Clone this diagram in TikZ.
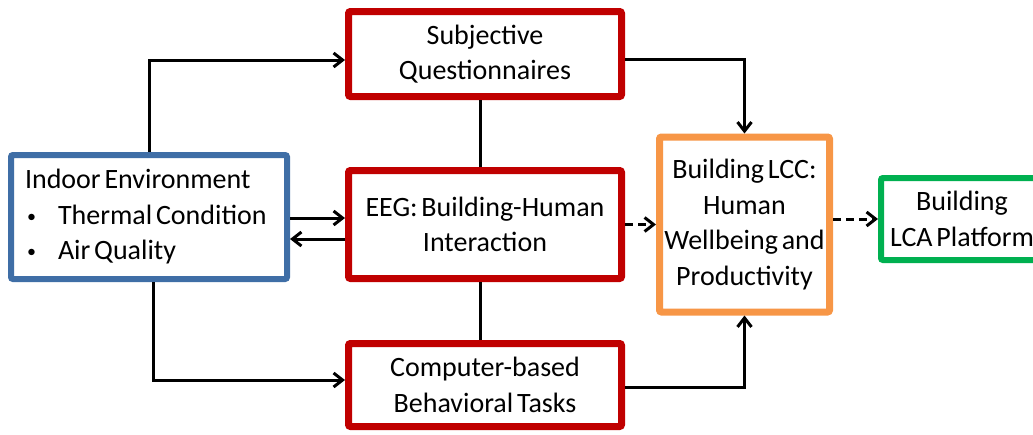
\documentclass[tikz,border=0pt]{standalone}
\usepackage{fontspec}
\setmainfont{Carlito}[WordSpace=0.6]
\usetikzlibrary{positioning,arrows.meta,shadows}

\definecolor{envblue}{HTML}{3F6EA6}
\definecolor{eegred}{HTML}{C00000}
\definecolor{lccorange}{HTML}{F79646}
\definecolor{lcagreen}{HTML}{00B050}

\newcommand{\envitem}{\hspace{2pt}\makebox[31pt][l]{\fontsize{18}{18}\selectfont\raisebox{2pt}{\textbullet}}}

\begin{document}
\begin{tikzpicture}[x=1pt,y=-1pt,
  box/.style={draw, line width=7pt, rounded corners=2pt, fill=white, align=center,
    font=\fontsize{28}{35.5}\selectfont,
    drop shadow={shadow xshift=2pt, shadow yshift=-2pt, opacity=0.25}},
  redbox/.style={box, draw=eegred, minimum width=273pt},
  arr/.style={line width=3pt, -{Straight Barb[length=9pt,width=14pt]}},
  dasharr/.style={arr, dash pattern=on 8pt off 5pt}]
  \useasboundingbox (0,0) rectangle (1033,434);

  \node (eeg) [redbox, minimum height=108pt] at (485,224.5) {EEG: Building-Human\\Interaction};
  \node (subj) [redbox, minimum height=85pt, node distance=170.5pt, above of=eeg] {Subjective\\Questionnaires};
  \node (comp) [redbox, minimum height=83pt, node distance=160.5pt, below of=eeg] {Computer-based\\Behavioral Tasks};
  \node (env) [box, draw=envblue, line width=6pt, minimum width=276pt, minimum height=124pt,
    text width=248pt, inner xsep=14pt, align=flush left] at (149,217)
    {Indoor Environment\\
     \envitem Thermal Condition\\
     \envitem Air Quality};
  \node (lcc) [box, draw=lccorange, minimum width=170pt, minimum height=175pt,
    node distance=259.5pt, right of=eeg] {Building LCC:\\Human\\Wellbeing and\\Productivity};
  \node (lca) [box, draw=lcagreen, line width=6pt, minimum width=162pt, minimum height=82pt]
    at (962,219) {Building\\LCA Platform};

  % inputs from the indoor environment
  \draw[arr] (env.north) |- ([yshift=-6pt]subj.west);
  \draw[arr] ([xshift=4pt]env.south) |- ([yshift=5pt]comp.west);
  \draw[arr] ([yshift=6.5pt]eeg.west -| env.east) -- ([yshift=6.5pt]eeg.west);
  \draw[arr] ([yshift=-14.5pt]eeg.west) -- ([yshift=-14.5pt]eeg.west -| env.east);

  % links between the measurements
  \draw[line width=3pt] ([xshift=-5pt]subj.south) -- ([xshift=-5pt]eeg.north);
  \draw[line width=3pt] ([xshift=-5pt]eeg.south) -- ([xshift=-5pt]comp.north);

  % towards LCC and LCA
  \draw[arr] ([yshift=-5pt]subj.east) -| (lcc.north);
  \draw[arr] ([yshift=-2pt]comp.east) -| (lcc.south);
  \draw[dasharr] (eeg.east) -- (eeg.east -| lcc.west);
  \draw[dasharr] (lca.west -| lcc.east) -- (lca.west);
\end{tikzpicture}
\end{document}
